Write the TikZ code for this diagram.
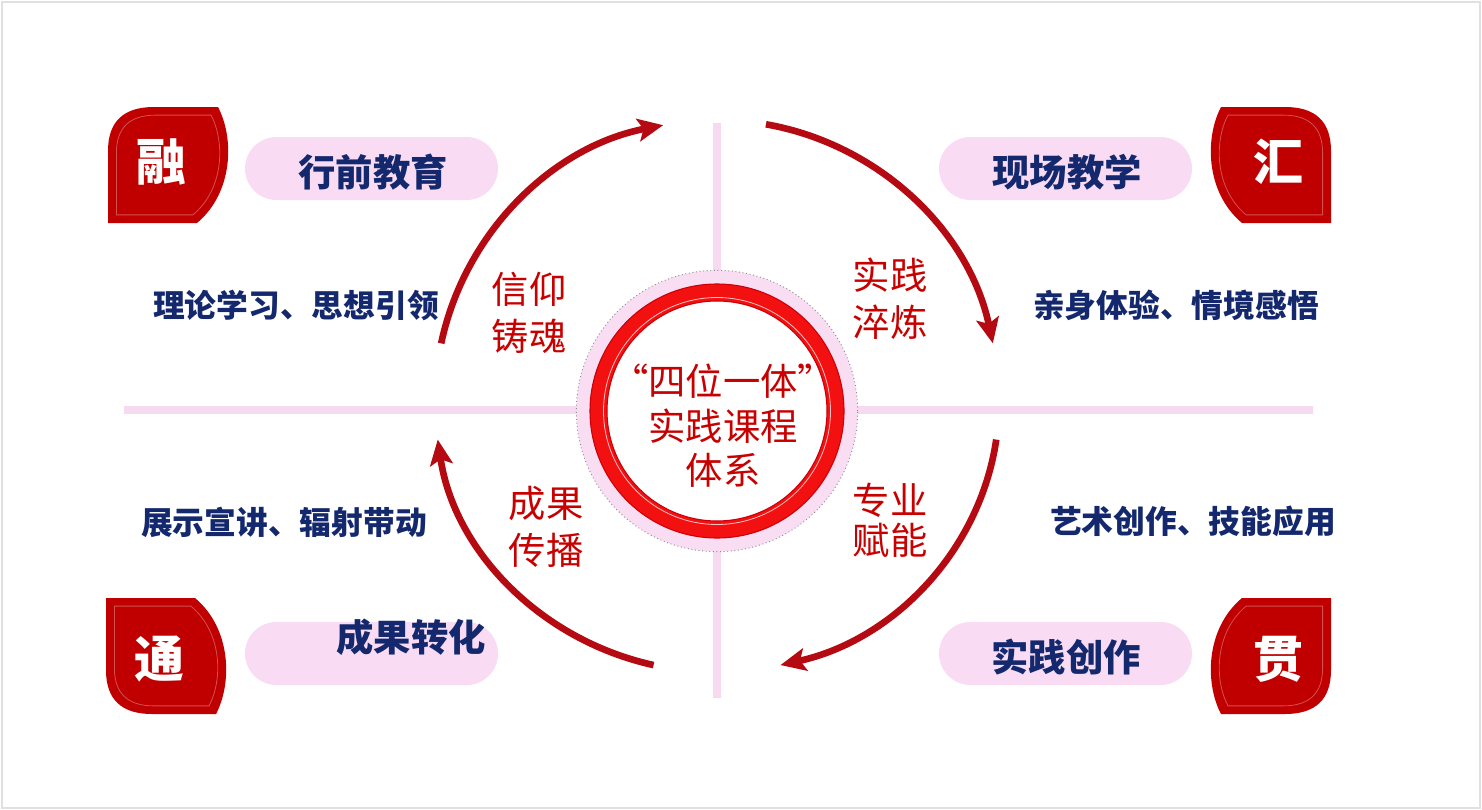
\documentclass[tikz,border=0pt]{standalone}
\usepackage{fontspec}
\usepackage{xcolor}
\usetikzlibrary{arrows.meta,calc}
\newfontfamily\cjk{Noto Sans CJK SC}
\definecolor{badgeRed}{HTML}{C00000}
\definecolor{arcRed}{HTML}{B50A12}
\definecolor{ringRed}{HTML}{F21010}
\definecolor{ringEdge}{HTML}{CC0008}
\definecolor{textRed}{HTML}{C80000}
\definecolor{navyText}{HTML}{14286E}
\definecolor{pillPink}{HTML}{F9DCF3}
\definecolor{axisPink}{HTML}{F8DAF0}
\definecolor{discPink}{HTML}{F9DDF3}
\tikzset{
  frameLine/.style={draw=black!12, line width=1.5pt},
  axisLine/.style={draw=axisPink, line width=6pt},
  cycleArrow/.style={-{Stealth[length=19pt,width=17pt,inset=4pt]}, draw=arcRed, line width=5pt},
  hubDisc/.style={circle, fill=discPink, draw=black!45, dotted, line width=0.7pt, minimum size=211pt, inner sep=0pt},
  ringLine/.style={draw=ringRed, line width=12.75pt},
  pill/.style={rectangle, rounded corners=23.6pt, draw=none, fill=pillPink, minimum width=189.75pt, minimum height=47.25pt, inner sep=0pt},
  pillLabel/.style={font=\cjk\bfseries\fontsize{28}{34}\selectfont, text=navyText, inner sep=0pt},
  subLabel/.style={font=\cjk\bfseries\fontsize{23.8}{28}\selectfont, text=navyText, inner sep=0pt},
  stageLabel/.style={font=\cjk\fontsize{28}{35}\selectfont, text=textRed, align=center, inner sep=0pt},
  hubText/.style={font=\cjk\fontsize{28}{33.4}\selectfont, text=textRed, align=center, inner sep=0pt},
  badgeChar/.style={font=\cjk\bfseries\fontsize{37.5}{40}\selectfont, text=white, inner sep=0pt}
}
% leaf badge: name, centre x, centre y, xscale, yscale, character
\newcommand{\leafPath}{(-60,58) -- (-60,-14) .. controls (-60,-44) and (-44,-58) .. (-14,-58)
      -- (50,-58) .. controls (66,-28) and (66,27) .. (29,58) -- cycle}
\newcommand{\leafBadge}[6]{%
  \begin{scope}[shift={(#2,#3)}, xscale=#4, yscale=#5]
    \fill[badgeRed] \leafPath;
    \draw[badgeRed!55!white, line width=0.6pt, opacity=0.7, scale=0.86] \leafPath;
    \node[badgeChar] (#1) at (-7,-3) {#6};
  \end{scope}
}

\begin{document}
\begin{tikzpicture}[x=0.75pt,y=-0.75pt]
\useasboundingbox (0,0) rectangle (1482,810);
\draw[frameLine] (2,2) rectangle (1480,808);

% --------------------------------------------------------------------------
% cross axes and hub
% --------------------------------------------------------------------------
\coordinate (axisW) at (124,410);
\coordinate (axisE) at (1313,410);
\coordinate (axisN) at (717,123);
\coordinate (axisS) at (717,698);
\draw[axisLine] (axisW) -- (axisE);
\draw[axisLine] (axisN) -- (axisS);

\node[hubDisc] (hub) at (717,411) {};
\fill[white] (hub.center) circle[radius=111];
\draw[ringLine] (hub.center) circle[radius=118.5];
\draw[ringEdge, line width=0.8pt] (hub.center) circle[radius=127];
\draw[ringEdge, line width=0.8pt] (hub.center) circle[radius=110];
\draw[white, line width=0.6pt, opacity=0.75] (hub.center) circle[radius=113.5];
\node[hubText] (hubLbl) at (723,426) {“四位一体”\\实践课程\\体系};

% --------------------------------------------------------------------------
% cycle arrows
% --------------------------------------------------------------------------
\coordinate (cycleCenter) at (717,402);
\coordinate (trFrom) at ($(cycleCenter)+(-80:282)$);
\coordinate (brFrom) at ($(cycleCenter)+({282*cos(8)},{270*sin(8)})$);
\coordinate (blFrom) at ($(cycleCenter)+({282*cos(103)},{270*sin(103)})$);
\coordinate (tlFrom) at ($(cycleCenter)+(192:282)$);
\draw[cycleArrow] (trFrom) arc[start angle=-80, end angle=-12, radius=282];
\draw[cycleArrow] (brFrom) arc[start angle=8, end angle=77, x radius=282, y radius=270];
\draw[cycleArrow] (blFrom) arc[start angle=103, end angle=172, x radius=282, y radius=270];
\draw[cycleArrow] (tlFrom) arc[start angle=192, end angle=259, radius=282];

\node[stageLabel] (faithLbl) at (529,313) {信仰\\铸魂};
\node[stageLabel] (practiceLbl) at (890,299) {实践\\淬炼};
\node[stageLabel] (spreadLbl) at (546,527) {成果\\传播};
\node[stageLabel, font=\cjk\fontsize{28}{30}\selectfont] (majorLbl) at (890,520) {专业\\赋能};

% --------------------------------------------------------------------------
% four corners
% --------------------------------------------------------------------------
\leafBadge{rongBadge}{168}{165}{1}{1}{融}
\leafBadge{huiBadge}{1271}{165}{-1}{1}{汇}
\leafBadge{tongBadge}{166}{656}{1}{-1}{通}
\leafBadge{guanBadge}{1271}{656}{-1}{-1}{贯}

\node[pill] (preEduPill) at (371.5,168.5) {};
\node[pillLabel] (preEduLbl) at (373,172) {行前教育};
\node[pill] (sitePill) at (1065.5,168.5) {};
\node[pillLabel] (siteLbl) at (1067,172) {现场教学};
\node[pill] (resultPill) at (371.5,653.5) {};
\node[pillLabel] (resultLbl) at (411,637) {成果转化};
\node[pill] (createPill) at (1065.5,653.5) {};
\node[pillLabel] (createLbl) at (1066,657) {实践创作};

\node[subLabel] (theoryLbl) at (296,305) {理论学习、思想引领};
\node[subLabel] (experienceLbl) at (1176,305) {亲身体验、情境感悟};
\node[subLabel] (showLbl) at (284,522) {展示宣讲、辐射带动};
\node[subLabel] (artLbl) at (1193,521) {艺术创作、技能应用};

\end{tikzpicture}
\end{document}
